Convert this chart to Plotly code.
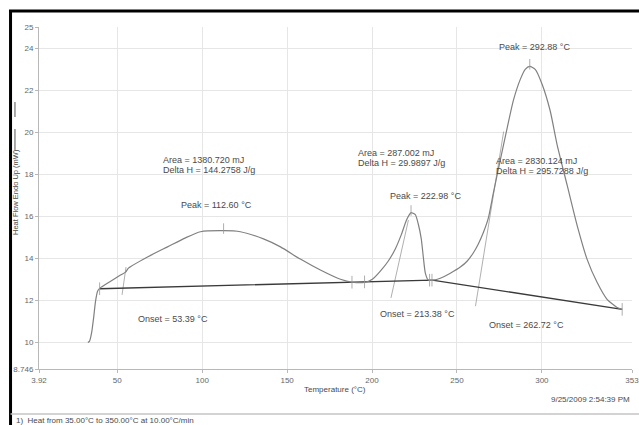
import plotly.graph_objects as go

# ---- DSC heating scan: temperature (°C) vs heat flow (mW) ----
temperature = [32.7, 33.7, 34.9, 36.1, 37.2, 38.4, 39.6, 46.1, 51.9, 54.9, 56.6,
               67.8, 79.6, 90.2, 99.0, 112.5, 122.5, 136.1, 146.1, 157.8, 169.6,
               181.4, 188.4, 196.1, 200.2, 204.9, 209.6, 213.7, 217.2, 220.2,
               222.0, 223.0, 225.5, 227.2, 229.0, 230.2, 231.4, 233.1, 236.1,
               240.2, 246.1, 252.0, 256.1, 259.6, 262.6, 265.5, 268.4, 271.4,
               275.5, 279.6, 283.2, 287.3, 290.2, 292.9, 296.1, 300.2, 304.9,
               309.0, 314.9, 320.8, 326.6, 332.5, 338.4, 344.3, 347.3]
heat_flow = [10.00, 10.07, 10.47, 11.19, 11.96, 12.44, 12.58, 12.92, 13.21, 13.35, 13.54,
             14.07, 14.55, 14.98, 15.27, 15.32, 15.27, 14.93, 14.55, 13.97, 13.45,
             13.01, 12.87, 12.87, 13.01, 13.40, 13.88, 14.45, 15.12, 15.80,
             16.08, 16.18, 16.08, 15.65, 14.93, 14.07, 13.30, 12.97, 12.97,
             13.06, 13.30, 13.59, 13.88, 14.26, 14.69, 15.22, 15.89, 17.09,
             18.67, 20.21, 21.50, 22.51, 22.99, 23.13, 22.99, 22.27, 21.02,
             19.40, 17.48, 15.56, 13.97, 12.87, 12.06, 11.67, 11.58]

# integration baselines (start / join / end points)
baseline_t = [39.6, 235.5, 347.3]
baseline_v = [12.56, 12.97, 11.58]

# peak results
peak_t = [112.60, 222.98, 292.88]
peak_v = [15.32, 16.18, 23.13]
onset_t = [53.39, 213.38, 262.72]
onset_slope = [0.57, 0.36, 0.50]          # tangent slope, mW/°C
tangent_dv = [(-0.32, 1.0), (-0.8, 2.9), (-0.9, 7.4)]  # extent of tangent below / above baseline
area_mj = [1380.720, 287.002, 2830.124]
delta_h = [144.2758, 29.9897, 295.7288]
limit_t = [39.6, 188.2, 195.6, 233.9, 235.3, 347.3]

x_ticks = [3.92, 50, 100, 150, 200, 250, 300, 353.08]
x_ticktext = ["3.92", "50", "100", "150", "200", "250", "300", "353"]
y_ticks = [8.746, 10, 12, 14, 16, 18, 20, 22, 24, 25]
y_ticktext = ["8.746", "10", "12", "14", "16", "18", "20", "22", "24", "25"]

FONT = "Liberation Sans, Arial, sans-serif"
TXT = "#4a4a4a"


def base_at(t):
    for i in range(len(baseline_t) - 1):
        t0, t1 = baseline_t[i], baseline_t[i + 1]
        if t0 <= t <= t1:
            v0, v1 = baseline_v[i], baseline_v[i + 1]
            return v0 + (v1 - v0) * (t - t0) / (t1 - t0)
    return baseline_v[-1]


fig = go.Figure()

# tangent lines through each onset point
for t0, s, (lo, hi) in zip(onset_t, onset_slope, tangent_dv):
    b = base_at(t0)
    fig.add_trace(go.Scatter(
        x=[t0 + lo / s, t0 + hi / s], y=[b + lo, b + hi],
        mode="lines", line=dict(color="#9a9a9a", width=0.8),
        hoverinfo="skip", showlegend=False))

# baselines
fig.add_trace(go.Scatter(x=baseline_t, y=baseline_v, mode="lines",
                         line=dict(color="#3a3a3a", width=1.3),
                         hoverinfo="skip", showlegend=False))

# heat flow curve
fig.add_trace(go.Scatter(x=temperature, y=heat_flow, mode="lines",
                         line=dict(color="#808080", width=1.2, shape="spline", smoothing=0.6),
                         showlegend=False))

# small vertical markers: peak positions and integration limits
shapes = []
for t, v in zip(peak_t, peak_v):
    shapes.append(dict(type="line", xref="x", yref="y", x0=t, x1=t,
                       y0=v - 0.15, y1=v + 0.35, line=dict(color="#999", width=0.8)))
for t in limit_t:
    v = base_at(t)
    shapes.append(dict(type="line", xref="x", yref="y", x0=t, x1=t,
                       y0=v - 0.3, y1=v + 0.3, line=dict(color="#999", width=0.8)))

# page frame
shapes += [
    dict(type="line", xref="paper", yref="paper", x0=-0.0506, x1=1.02, y0=1.0468, y1=1.0468,
         line=dict(color="black", width=3)),
    dict(type="line", xref="paper", yref="paper", x0=-0.048, x1=-0.048, y0=1.05, y1=-0.17,
         line=dict(color="black", width=3)),
    dict(type="line", xref="paper", yref="paper", x0=-0.048, x1=1.02, y0=-0.1316, y1=-0.1316,
         line=dict(color="#c4c4c4", width=1.5)),
    # legend line sample beside the y-axis title
    dict(type="line", xref="paper", yref="paper", x0=-0.0405, x1=-0.0405, y0=0.7807, y1=0.7368,
         line=dict(color="#555", width=1)),
    dict(type="line", xref="paper", yref="paper", x0=-0.0405, x1=-0.0405, y0=0.7018, y1=0.6404,
         line=dict(color="#555", width=1)),
]

ann = []


def label(x, y, text):
    ann.append(dict(x=x, y=y, xref="x", yref="y", text=text, showarrow=False,
                    xanchor="left", yanchor="middle",
                    font=dict(family=FONT, size=9, color=TXT)))


area_pos = [(75.5, 18.67), (190.8, 19.01), (271.9, 18.63)]
peak_pos = [(86.1, 16.52), (209.6, 16.95), (273.7, 24.05)]
onset_pos = [(60.8, 11.14), (203.7, 11.38), (267.8, 10.86)]
for i in range(3):
    ax, ay = area_pos[i]
    label(ax, ay, f"Area = {area_mj[i]:.3f} mJ")
    label(ax, ay - 0.48, f"Delta H = {delta_h[i]:.4f} J/g")
    label(*peak_pos[i], f"Peak = {peak_t[i]:.2f} °C")
    label(*onset_pos[i], f"Onset = {onset_t[i]:.2f} °C")

ann += [
    dict(x=-0.0405, y=0.5175, xref="paper", yref="paper", text="Heat Flow Endo Up (mW)",
         textangle=-90, showarrow=False, xanchor="center", yanchor="middle",
         font=dict(family=FONT, size=7.5, color=TXT)),
    dict(x=0.499, y=-0.0585, xref="paper", yref="paper", text="Temperature (°C)",
         showarrow=False, xanchor="center", yanchor="middle",
         font=dict(family=FONT, size=8, color=TXT)),
    dict(x=1.0, y=-0.088, xref="paper", yref="paper", text="9/25/2009 2:54:39 PM",
         showarrow=False, xanchor="right", yanchor="middle",
         font=dict(family=FONT, size=8, color=TXT)),
    dict(x=-0.042, y=-0.152, xref="paper", yref="paper",
         text="1)  Heat from 35.00°C to 350.00°C at 10.00°C/min",
         showarrow=False, xanchor="left", yanchor="middle",
         font=dict(family=FONT, size=8, color=TXT)),
]

fig.update_layout(
    width=639, height=425,
    margin=dict(l=39, r=7, t=27, b=56, autoexpand=False),
    paper_bgcolor="white", plot_bgcolor="white",
    font=dict(family=FONT, size=8, color="#555"),
    shapes=shapes, annotations=ann,
    xaxis=dict(range=[3.92, 353.08], tickvals=x_ticks, ticktext=x_ticktext,
               showgrid=True, gridcolor="#e6e6e6", gridwidth=1,
               showline=True, linecolor="#b8b8b8", linewidth=1, mirror=False,
               ticks="outside", ticklen=3, tickcolor="#b8b8b8",
               ticklabeloverflow="allow", automargin=False,
               zeroline=False, tickfont=dict(size=8, color="#666")),
    yaxis=dict(range=[8.746, 25], tickvals=y_ticks, ticktext=y_ticktext,
               showgrid=True, gridcolor="#e6e6e6", gridwidth=1,
               showline=True, linecolor="#b8b8b8", linewidth=1,
               ticks="outside", ticklen=3, tickcolor="#b8b8b8", automargin=False,
               zeroline=False, tickfont=dict(size=8, color="#666")),
)

fig.write_html("out.html")
